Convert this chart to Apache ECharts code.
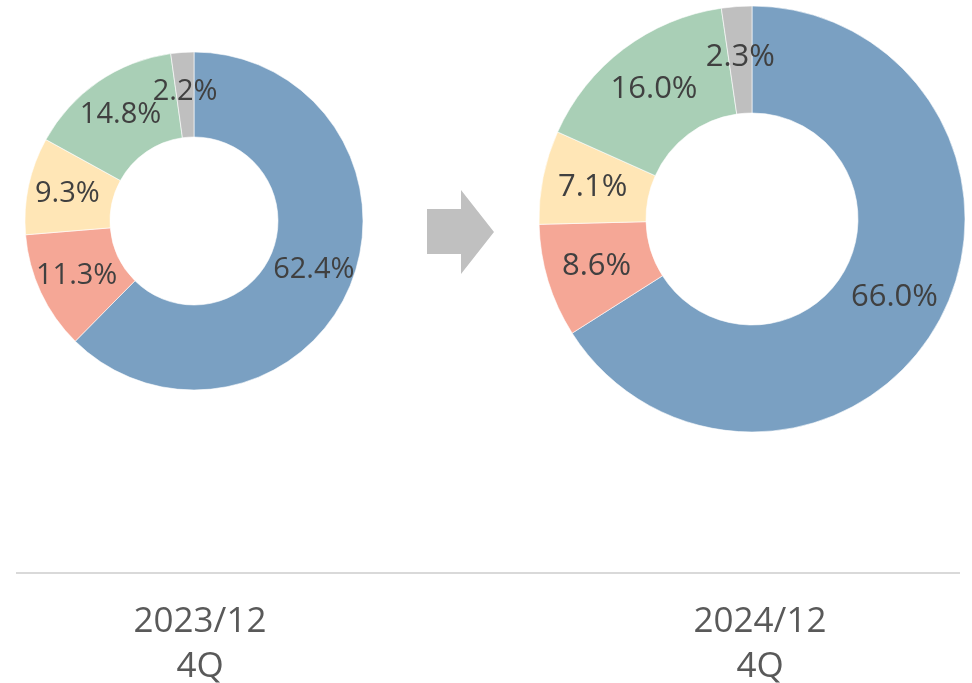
<!DOCTYPE html>
<html>
<head>
<meta charset="utf-8">
<script src="https://cdn.jsdelivr.net/npm/echarts@6/dist/echarts.min.js"></script>
<style>
  html, body { margin: 0; padding: 0; background: #fff; }
  #chart { width: 972px; height: 683px; }
</style>
</head>
<body>
<div id="chart"></div>
<script>
// 数据
const segments = ['A', 'B', 'C', 'D', 'E'];
const colors = ['#7AA0C2', '#F5A796', '#FFE6B6', '#A9CFB6', '#BFBFBF'];
const values2023 = [62.4, 11.3, 9.3, 14.8, 2.2];
const values2024 = [66.0, 8.6, 7.1, 16.0, 2.3];
const periods = ['2023/12', '2024/12'];
const quarters = ['4Q', '4Q'];

const chart = echarts.init(document.getElementById('chart'));

const toData = (vals) => vals.map((v, i) => ({
  name: segments[i],
  value: v,
  itemStyle: { color: colors[i] }
}));

const pieSeries = (vals, center, radius, fontSize) => ({
  type: 'pie',
  center: center,
  radius: radius,
  startAngle: 90,
  clockwise: true,
  avoidLabelOverlap: false,
  minShowLabelAngle: 0,
  silent: true,
  itemStyle: { borderColor: '#fff', borderWidth: 0.6 },
  label: {
    show: true,
    position: 'inside',
    overflow: 'none',
    formatter: (p) => p.value.toFixed(1) + '%',
    color: '#404040',
    fontSize: fontSize,
    fontFamily: 'Open Sans'
  },
  labelLayout: { hideOverlap: false },
  labelLine: { show: false },
  data: toData(vals)
});

const textStyle = { fill: '#595959', fontSize: 35, fontFamily: 'Open Sans', align: 'center', verticalAlign: 'middle' };

chart.setOption({
  animation: false,
  series: [
    pieSeries(values2023, [194, 221], [84, 169], 29),
    pieSeries(values2024, [752, 219], [106, 213], 31)
  ],
  graphic: [
    {
      type: 'polygon',
      shape: { points: [[427, 209], [461, 209], [461, 190], [494, 232], [461, 274], [461, 254], [427, 254]] },
      style: { fill: '#C0C0C0' }
    },
    {
      type: 'line',
      shape: { x1: 16, y1: 573, x2: 960, y2: 573 },
      style: { stroke: '#D9D9D9', lineWidth: 2 }
    },
    { type: 'text', x: 200, y: 622, style: Object.assign({ text: periods[0] }, textStyle) },
    { type: 'text', x: 200, y: 667, style: Object.assign({ text: quarters[0] }, textStyle) },
    { type: 'text', x: 760, y: 622, style: Object.assign({ text: periods[1] }, textStyle) },
    { type: 'text', x: 760, y: 667, style: Object.assign({ text: quarters[1] }, textStyle) }
  ]
});
</script>
</body>
</html>
